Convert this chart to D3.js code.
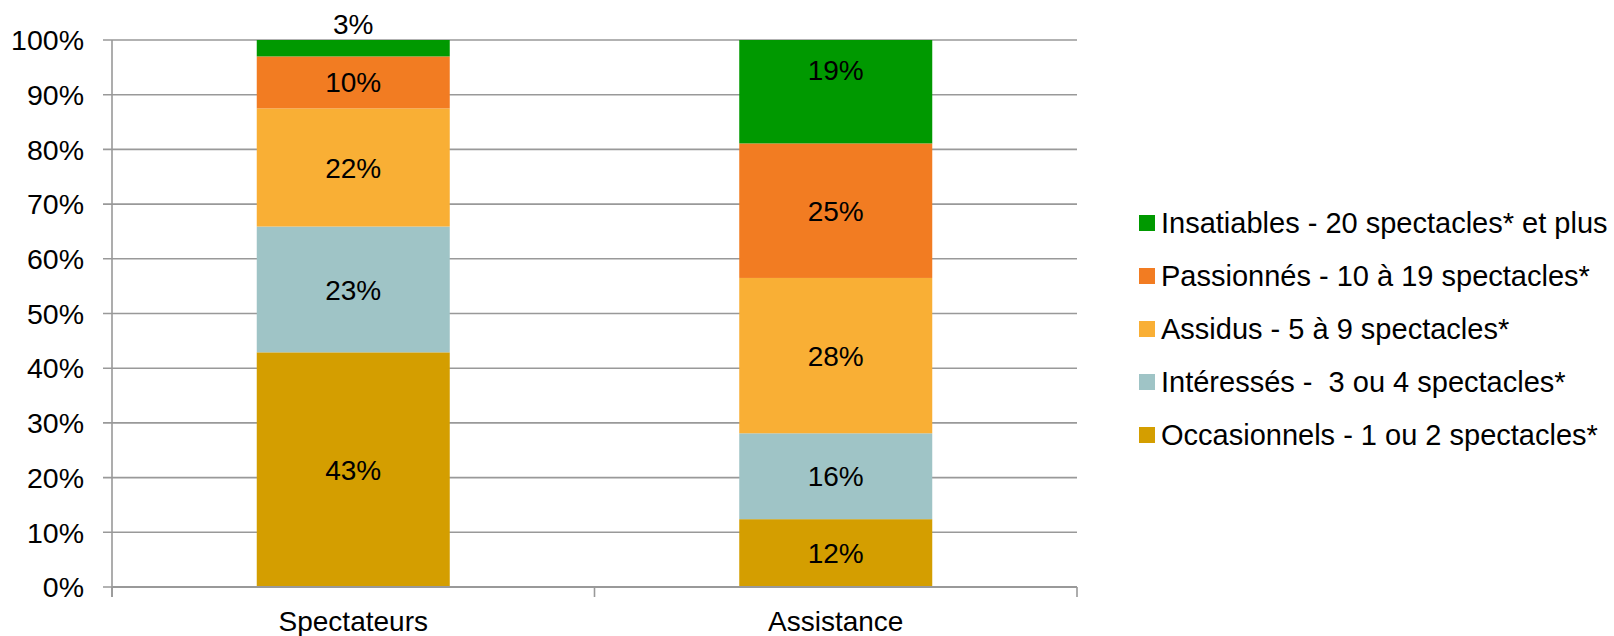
<!DOCTYPE html>
<html><head><meta charset="utf-8">
<script src="https://cdn.jsdelivr.net/npm/d3@7"></script>
<style>body{margin:0;background:#fff}svg{display:block}text{font-family:"Liberation Sans",Arial,Helvetica,sans-serif;fill:#000;white-space:pre}</style>
</head><body><svg id="c" width="1614" height="636"></svg>
<script>
const categories = ["Spectateurs", "Assistance"];
const seriesNames = ["Occasionnels - 1 ou 2 spectacles*", "Intéressés -  3 ou 4 spectacles*", "Assidus - 5 à 9 spectacles*", "Passionnés - 10 à 19 spectacles*", "Insatiables - 20 spectacles* et plus"];
const occasionnels = [42.9, 12.4];
const interesses = [23.0, 15.7];
const assidus = [21.6, 28.4];
const passionnes = [9.5, 24.6];
const insatiables = [3.0, 18.9];
const colors = ["#D49E00", "#9FC4C6", "#F9AF35", "#F27C22", "#009900"];
const yTicks = [0,10,20,30,40,50,60,70,80,90,100];

const seriesValues = [occasionnels, interesses, assidus, passionnes, insatiables];
const rows = categories.map((c,i)=>{const r={cat:c}; seriesNames.forEach((s,j)=>r[s]=seriesValues[j][i]); return r;});
const stack = d3.stack().keys(seriesNames)(rows);

const svg = d3.select("#c");
const mLeft=112, mRight=1077, mTop=40, mBottom=587;
const x = d3.scaleBand().domain(categories).range([mLeft,mRight]).paddingInner(0.6).paddingOuter(0.3);
const y = d3.scaleLinear().domain([0,100]).range([mBottom,mTop]);
const color = d3.scaleOrdinal().domain(seriesNames).range(colors);
const gridColor = "#999";
const fs = 28;

svg.append("g").selectAll("line").data(yTicks).join("line")
  .attr("x1",mLeft-9).attr("x2",mRight).attr("y1",d=>y(d)).attr("y2",d=>y(d))
  .attr("stroke",gridColor).attr("stroke-width",1.6);

svg.append("g").selectAll("text").data(yTicks).join("text")
  .attr("x",84).attr("y",d=>y(d)).attr("dy","0.36em").attr("text-anchor","end")
  .attr("font-size",28.5).text(d=>d+"%");

const gS = svg.append("g").selectAll("g").data(stack).join("g").attr("fill",d=>color(d.key));
gS.selectAll("rect").data(d=>d).join("rect")
  .attr("x",d=>x(d.data.cat)).attr("width",x.bandwidth())
  .attr("y",d=>y(d[1])).attr("height",d=>y(d[0])-y(d[1]));

const lastIdx = stack.length-1;
stack.forEach((s,si)=>{
  s.forEach(d=>{
    const v=d[1]-d[0];
    const h=y(d[0])-y(d[1]);
    let cy;
    if (h<22) cy = y(d[1])-16;
    else if (si===lastIdx) cy = y(d[1])+30;
    else cy = (y(d[0])+y(d[1]))/2;
    svg.append("text").attr("x",x(d.data.cat)+x.bandwidth()/2).attr("y",cy)
      .attr("dy","0.36em").attr("text-anchor","middle").attr("font-size",fs)
      .text(Math.round(v)+"%");
  });
});

svg.append("line").attr("x1",mLeft).attr("x2",mLeft).attr("y1",mTop).attr("y2",mBottom+10).attr("stroke",gridColor).attr("stroke-width",1.6);
svg.append("line").attr("x1",mLeft).attr("x2",mRight).attr("y1",mBottom).attr("y2",mBottom).attr("stroke",gridColor).attr("stroke-width",1.8);
const catTicks=[mLeft, mLeft+(mRight-mLeft)/2, mRight];
svg.append("g").selectAll("line").data(catTicks).join("line")
  .attr("x1",d=>d).attr("x2",d=>d).attr("y1",mBottom).attr("y2",mBottom+10).attr("stroke",gridColor).attr("stroke-width",1.6);

svg.append("g").selectAll("text").data(categories).join("text")
  .attr("x",d=>x(d)+x.bandwidth()/2).attr("y",631)
  .attr("text-anchor","middle").attr("font-size",fs).text(d=>d);

const legendOrder = seriesNames.slice().reverse();
const lg = svg.append("g").selectAll("g").data(legendOrder).join("g")
  .attr("transform",(d,i)=>`translate(1139,${223+i*53})`);
lg.append("rect").attr("x",0).attr("y",-8).attr("width",16).attr("height",16).attr("fill",d=>color(d));
lg.append("text").attr("x",22).attr("y",0).attr("dy","0.36em").attr("font-size",29).text(d=>d);
</script></body></html>
